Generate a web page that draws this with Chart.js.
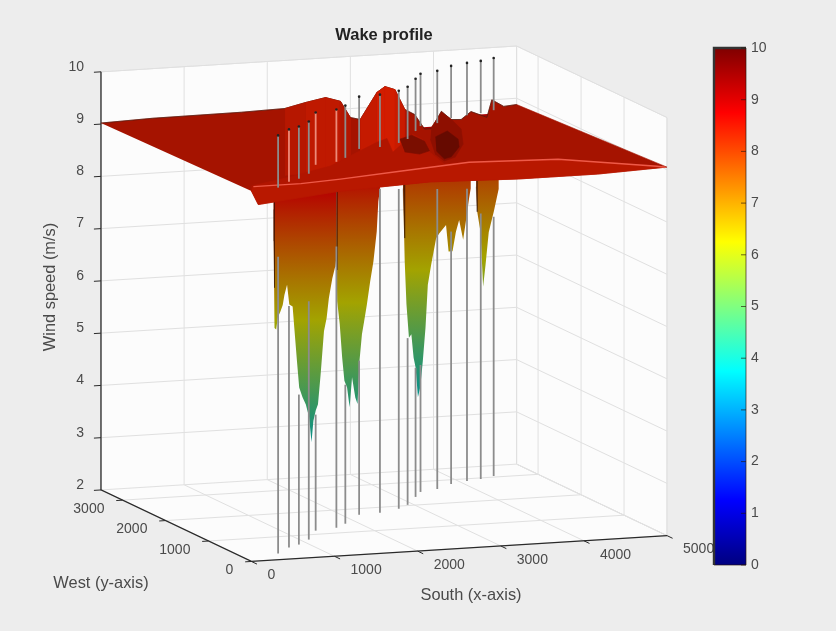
<!DOCTYPE html>
<html>
<head>
<meta charset="utf-8">
<title>Wake profile</title>
<script src="https://cdn.jsdelivr.net/npm/chart.js@4/dist/chart.umd.min.js"></script>
<style>
html, body { margin: 0; padding: 0; background: #ededed; }
#wrap { position: relative; width: 836px; height: 631px; overflow: hidden; }
canvas { position: absolute; top: 0; filter: blur(0.6px); }
#surfaceChart { left: 0; }
#colorbarChart { left: 700px; }
</style>
</head>
<body>
<div id="wrap">
  <canvas id="surfaceChart" width="768" height="631"></canvas>
  <canvas id="colorbarChart" width="90" height="631"></canvas>
</div>
<script>
// axis ranges and tick labels
let xMax = 5000;
let yMax = 3500;
let zMin = 2;
let zMax = 10;
let xTicks = [0, 1000, 2000, 3000, 4000, 5000];
let yTicks = [0, 1000, 2000, 3000];
let zTicks = [2, 3, 4, 5, 6, 7, 8, 9, 10];

// turbines: position in metres, wind speed where the tower leaves the wake
let turbineX = [462, 711, 883, 1100, 1373, 1660, 1844, 2191, 2457, 2746, 2929, 3191, 3355, 3600, 3858, 4094, 4285, 4489];
let turbineY = [272, 501, 603, 792, 1160, 1233, 1381, 1731, 1761, 1882, 2030, 2352, 2554, 2638, 2815, 2902, 2951, 3045];
let turbineWake = [7.68, 6.62, 4.87, 6.56, 4.22, 7.38, 4.66, 4.95, 8.2, 8.12, 5.19, 4.47, 4.43, 7.74, 6.83, 7.59, 7.08, 6.96];
let paleTurbines = [1, 4, 5];

// wake dips under the sheet: lower outline at four rows
let dipAY = 700;
let dipAX = [628, 632, 640, 660, 679, 711, 739, 759, 791, 818, 858, 878, 910, 937, 977, 1017, 1056, 1085, 1108, 1136, 1163, 1195, 1235, 1267, 1294, 1335, 1374, 1386];
let dipAZ = [8.4, 7.8, 6.13, 6.1, 6.32, 6.44, 6.56, 6.75, 6.94, 6.56, 6.52, 6.11, 5.47, 4.96, 4.77, 4.63, 4.38, 3.9, 4.31, 4.5, 4.62, 5.19, 6.01, 6.26, 6.64, 7.01, 7.26, 7.45];
let dipBY = 1300;
let dipBX = [1696, 1704, 1735, 1764, 1791, 1823, 1854, 1883, 1922, 1949, 1973, 2002, 2029, 2061, 2101, 2140, 2180, 2199, 2220];
let dipBZ = [7.2, 6.3, 5.86, 5.22, 4.77, 4.64, 4.26, 4.83, 4.44, 4.31, 5.14, 5.64, 5.89, 6.2, 6.64, 7.02, 7.59, 8.16, 8.41];
let dipCY = 2500;
let dipCX = [3117, 3137, 3158, 3188, 3217, 3244, 3268, 3296, 3324, 3355, 3387, 3415, 3455, 3515, 3554, 3634, 3665, 3712, 3753, 3792, 3840, 3872, 3911, 3931];
let dipCZ = [7.85, 6.45, 5.63, 4.99, 5.05, 4.6, 4.41, 3.84, 4.03, 4.53, 5.16, 5.98, 6.36, 6.86, 6.95, 7.1, 6.59, 6.59, 6.96, 7.18, 6.8, 7.14, 7.58, 7.77];
let dipDY = 2900;
let dipDX = [4204, 4216, 4256, 4287, 4316, 4355, 4415, 4474];
let dipDZ = [7.62, 7.14, 6.75, 5.7, 6.11, 6.74, 7.12, 7.55];

// far edge of the sheet (y = 3500)
let backX = [0, 619, 1690, 2214, 2464, 2702, 2881, 3000, 3119, 3321, 3417, 3536, 3655, 3774, 3893, 3976, 4095, 4214, 4333, 4452, 4643, 4702, 4845, 5000];
let backZ = [9.02, 9.05, 9.06, 9.08, 9.17, 9.24, 9.15, 8.83, 8.78, 9.28, 9.38, 9.31, 8.92, 8.81, 8.52, 8.52, 8.84, 8.67, 8.66, 8.8, 8.67, 9, 8.86, 8.88];

// fold across the middle of the sheet (y = 1500)
let foldY = 1500;
let foldX = [775, 1251, 1442, 1727, 2049, 2287, 2406, 2477, 2715, 2834, 2918, 3096, 3394];
let foldZ = [8.52, 8.65, 8.72, 8.81, 9.04, 9.21, 9.27, 9, 9.32, 9.21, 8.96, 8.71, 8.72];

// near edge (y = 0) and the bright crest just behind it
let frontX = [0, 83, 1071, 2143, 3214, 4167, 4976];
let frontZ = [9.09, 8.82, 8.98, 9.05, 9, 9, 9.05];
let crestX = [24, 595, 1071, 1786, 2619, 3690, 4881, 4976];
let crestZ = [9.17, 9.17, 9.21, 9.29, 9.38, 9.33, 9.08, 9.05];

// steep walls of the two wake holes seen from above (y = 2000)
let holeY = 2000;
let holeAX = [2819, 2962, 3117, 3176, 3057, 2879];
let holeAZ = [9.02, 9.08, 8.95, 8.76, 8.71, 8.77];
let holeBX = [3200, 3319, 3438, 3557, 3581, 3486, 3355, 3248, 3188];
let holeBZ = [9.21, 9.48, 9.34, 9.14, 8.85, 8.61, 8.55, 8.69, 8.98];
let holeCX = [3248, 3391, 3521, 3533, 3438, 3355, 3260];
let holeCZ = [9.02, 9.12, 8.95, 8.8, 8.62, 8.59, 8.75];

let colorbarTicks = [0, 1, 2, 3, 4, 5, 6, 7, 8, 9, 10];

let datasets = [];
let fontFamily = "'Liberation Sans', Helvetica, Arial, sans-serif";

// fixed view of the 3D box, it has no perspective
function project(x, y, z) {
    return {
        x: 250 + 0.084 * x - 0.04343 * y,
        y: 565 - 0.0052 * x - 0.02057 * y - (z - zMin) * 52.625
    };
}

function clamp01(v) {
    return Math.max(0, Math.min(1, v));
}

// same colormap as the colour bar, scaled by a light factor
function jet(z, light) {
    let t = z / 10;
    let r = clamp01(1.5 - Math.abs(4 * t - 3)) * 255 * light;
    let g = clamp01(1.5 - Math.abs(4 * t - 2)) * 255 * light;
    let b = clamp01(1.5 - Math.abs(4 * t - 1)) * 255 * light;
    return `rgb(${Math.round(r)},${Math.round(g)},${Math.round(b)})`;
}

function addLine(points, color, width) {
    datasets.push({
        data: points.map(p => project(p[0], p[1], p[2])),
        showLine: true, fill: false, pointRadius: 0,
        borderColor: color, borderWidth: width
    });
}

function addShape(points, color) {
    datasets.push({
        data: points.map(p => project(p[0], p[1], p[2])),
        showLine: true, fill: "shape", pointRadius: 0,
        backgroundColor: color, borderColor: color, borderWidth: 0.6
    });
}

function rowPoints(xs, y, zs) {
    return xs.map((x, i) => [x, y, zs[i]]);
}

function addWalls() {
    let wall = "#fcfcfc";
    addShape([[0, yMax, zMin], [xMax, yMax, zMin], [xMax, yMax, zMax], [0, yMax, zMax]], wall);
    addShape([[xMax, yMax, zMin], [xMax, 0, zMin], [xMax, 0, zMax], [xMax, yMax, zMax]], wall);
    addShape([[0, 0, zMin], [xMax, 0, zMin], [xMax, yMax, zMin], [0, yMax, zMin]], wall);

    let grid = "#e0e0e0";
    zTicks.forEach(z => {
        addLine([[0, yMax, z], [xMax, yMax, z], [xMax, 0, z]], grid, 1);
    });
    xTicks.forEach(x => {
        addLine([[x, 0, zMin], [x, yMax, zMin], [x, yMax, zMax]], grid, 1);
    });
    yTicks.forEach(y => {
        addLine([[0, y, zMin], [xMax, y, zMin], [xMax, y, zMax]], grid, 1);
    });
    addLine([[xMax, yMax, zMin], [xMax, yMax, zMax]], grid, 1);
    addLine([[xMax, 0, zMin], [xMax, 0, zMax], [xMax, yMax, zMax], [0, yMax, zMax]], grid, 1);
    addLine([[xMax, yMax, zMin], [xMax, 0, zMin]], grid, 1);

    let axis = "#2a2a2a";
    addLine([[0, yMax, zMax], [0, yMax, zMin], [0, 0, zMin], [xMax, 0, zMin]], axis, 1.3);
    zTicks.forEach(z => {
        addLine([[0, yMax, z], [-85, yMax, z]], axis, 1);
    });
    xTicks.forEach(x => {
        addLine([[x, 0, zMin], [x, -130, zMin]], axis, 1);
    });
    yTicks.forEach(y => {
        addLine([[0, y, zMin], [-75, y, zMin]], axis, 1);
    });
}

// vertical colormap gradient for a dip row, through the chart's y scale
function dipGradient(y, midX) {
    return function (context) {
        let scale = context.chart.scales.y;
        if (!scale) return "#a02000";
        let top = scale.getPixelForValue(project(midX, y, 9).y);
        let bottom = scale.getPixelForValue(project(midX, y, 3).y);
        if (!Number.isFinite(top) || !Number.isFinite(bottom)) return "#a02000";
        let gradient = context.chart.ctx.createLinearGradient(0, top, 0, bottom);
        for (let i = 0; i <= 24; i++) {
            // the deep part of a wake catches less light
            gradient.addColorStop(i / 24, jet(9 - i / 4, 0.72 - i * 0.0075));
        }
        return gradient;
    };
}

// one dip hanging under the sheet, darker along its left edge
function addDip(xs, y, zs) {
    let midX = (xs[0] + xs[xs.length - 1]) / 2;
    let outline = [[xs[0], y, 9]].concat(rowPoints(xs, y, zs), [[xs[xs.length - 1], y, 9]]);
    datasets.push({
        data: outline.map(p => project(p[0], p[1], p[2])),
        showLine: true, fill: "shape", pointRadius: 0,
        backgroundColor: dipGradient(y, midX), borderColor: "rgba(0,0,0,0)", borderWidth: 0
    });
    let edge = [];
    let lower = [];
    for (let i = 0; i < xs.length && xs[i] - xs[0] < 30; i++) {
        edge.push([xs[i], y, 9]);
        lower.push([xs[i], y, Math.max(zs[i], 6.9)]);
    }
    addShape(edge.concat(lower.reverse()), "rgba(40,10,0,0.45)");
}

function addTowersLower() {
    turbineX.forEach((x, i) => {
        addLine([[x, turbineY[i], zMin], [x, turbineY[i], turbineWake[i]]], "#8c8c8c", 1.8);
    });
}

function addTowersUpper() {
    turbineX.forEach((x, i) => {
        let color = paleTurbines.includes(i) ? "#ec8a78" : "#8c8c8c";
        addLine([[x, turbineY[i], 9], [x, turbineY[i], zMax]], color, 1.8);
    });
    datasets.push({
        data: turbineX.map((x, i) => project(x, turbineY[i], zMax)),
        showLine: false, pointRadius: 1.3, pointBackgroundColor: "#222", pointBorderWidth: 0
    });
}

function sheetColor(z) {
    let f = clamp01((z - 9.05) / 0.45);
    let r = 165 + f * 62;
    let g = 19 + f * 14;
    return `rgb(${Math.round(r)},${Math.round(g)},0)`;
}

function addSheet() {
    let outline = rowPoints(backX, yMax, backZ);
    outline.push([xMax, 0, 9.05]);
    outline.push([0, 0, 9.09]);
    addShape(outline, "#a51300");
    addLine(rowPoints(backX, yMax, backZ), "rgba(50,30,20,0.55)", 1);

    // raised parts at the far side are lit, so brighter
    for (let i = 0; i < backX.length - 1; i++) {
        let top = Math.max(backZ[i], backZ[i + 1]);
        if (top <= 9.1) continue;
        addShape([[backX[i], yMax, backZ[i]], [backX[i + 1], yMax, backZ[i + 1]], [backX[i + 1], yMax, 7.8], [backX[i], yMax, 7.8]], sheetColor(top));
    }

    let midRim = rowPoints(foldX, foldY, foldZ);
    let crest = rowPoints(crestX, 0, crestZ);
    let front = rowPoints(frontX, 0, frontZ).reverse();
    addShape(midRim.concat(crest.filter(p => p[0] > 2700)).concat(front), "#b11500");

    addShape(rowPoints(holeAX, holeY, holeAZ), "#7a0e00");
    addShape(rowPoints(holeBX, holeY, holeBZ), "#8e0f00");
    addShape(rowPoints(holeCX, holeY, holeCZ), "#660a00");

    addShape(crest.concat(front), "#b81800");
    addLine(crest, "#ee5a48", 1.4);
}

addWalls();
addDip(dipAX, dipAY, dipAZ);
addDip(dipBX, dipBY, dipBZ);
addDip(dipCX, dipCY, dipCZ);
addDip(dipDX, dipDY, dipDZ);
addTowersLower();
addSheet();
addTowersUpper();

// tick and axis labels of the 3D box
let boxLabels = {
    id: "boxLabels",
    afterDraw(chart) {
        let ctx = chart.ctx;
        let sx = v => chart.scales.x.getPixelForValue(v);
        let sy = v => chart.scales.y.getPixelForValue(v);
        ctx.save();
        ctx.fillStyle = "#4a4a4a";
        ctx.font = "14px " + fontFamily;
        ctx.textBaseline = "middle";

        ctx.textAlign = "right";
        zTicks.forEach(z => {
            let p = project(0, yMax, z);
            ctx.fillText(String(z), sx(p.x) - 17, sy(p.y) - 5);
        });
        yTicks.forEach(y => {
            let p = project(0, y, zMin);
            ctx.fillText(String(y), sx(p.x) - 18, sy(p.y) + 9);
        });
        ctx.textAlign = "left";
        xTicks.forEach(x => {
            let p = project(x, 0, zMin);
            ctx.fillText(String(x), sx(p.x) + 16, sy(p.y) + 14);
        });

        ctx.textAlign = "center";
        ctx.font = "16.4px " + fontFamily;
        ctx.fillText("West (y-axis)", 101, 583);
        ctx.fillText("South (x-axis)", 471, 595);
        ctx.translate(50, 287);
        ctx.rotate(-Math.PI / 2);
        ctx.fillText("Wind speed (m/s)", 0, 0);
        ctx.restore();
    }
};

new Chart(document.getElementById("surfaceChart").getContext("2d"), {
    type: "scatter",
    data: { datasets: datasets.slice().reverse() },
    plugins: [boxLabels],
    options: {
        responsive: false,
        animation: false,
        events: [],
        parsing: false,
        normalized: true,
        layout: { padding: 0 },
        scales: {
            x: { type: "linear", display: false, min: 0, max: 768 },
            y: { type: "linear", display: false, min: 45, max: 631, reverse: true }
        },
        plugins: {
            legend: { display: false },
            tooltip: { enabled: false },
            title: {
                display: true,
                text: "Wake profile",
                color: "#222",
                font: { family: fontFamily, size: 16.5, weight: "bold", lineHeight: 1 },
                padding: { top: 27, bottom: 1.5 }
            }
        }
    }
});

// colour bar
let barFrame = {
    id: "barFrame",
    afterDraw(chart) {
        let ctx = chart.ctx;
        let area = chart.chartArea;
        let scale = chart.scales.y;
        ctx.save();
        ctx.strokeStyle = "#333";
        ctx.lineWidth = 2.4;
        ctx.beginPath();
        ctx.moveTo(area.left, area.bottom);
        ctx.lineTo(area.left, area.top);
        ctx.lineTo(area.right, area.top);
        ctx.stroke();
        ctx.lineWidth = 1;
        ctx.strokeStyle = "rgba(40,20,10,0.65)";
        ctx.beginPath();
        ctx.moveTo(area.right, area.top);
        ctx.lineTo(area.right, area.bottom);
        ctx.lineTo(area.left, area.bottom);
        colorbarTicks.forEach(v => {
            let py = scale.getPixelForValue(v);
            ctx.moveTo(area.right, py);
            ctx.lineTo(area.right - 5, py);
        });
        ctx.stroke();
        ctx.restore();
    }
};

function barGradient(context) {
    let chart = context.chart;
    if (!chart.chartArea) return "#000";
    let area = chart.chartArea;
    let gradient = chart.ctx.createLinearGradient(0, area.bottom, 0, area.top);
    for (let i = 0; i <= 40; i++) {
        gradient.addColorStop(i / 40, jet(i / 4, 1));
    }
    return gradient;
}

new Chart(document.getElementById("colorbarChart").getContext("2d"), {
    type: "bar",
    data: {
        labels: ["Wind speed"],
        datasets: [{ data: [10], backgroundColor: barGradient, borderWidth: 0, barPercentage: 1, categoryPercentage: 1 }]
    },
    plugins: [barFrame],
    options: {
        responsive: false,
        animation: false,
        events: [],
        layout: { padding: { top: 48, bottom: 66, left: 14 } },
        scales: {
            x: { display: false },
            y: {
                position: "right",
                min: 0,
                max: 10,
                afterFit(scale) { scale.width = 44; },
                afterBuildTicks(scale) { scale.ticks = colorbarTicks.map(v => ({ value: v })); },
                grid: { display: false, drawTicks: false },
                border: { display: false },
                ticks: { color: "#4a4a4a", padding: 5, font: { family: fontFamily, size: 14 } }
            }
        },
        plugins: { legend: { display: false }, tooltip: { enabled: false } }
    }
});
</script>
</body>
</html>
